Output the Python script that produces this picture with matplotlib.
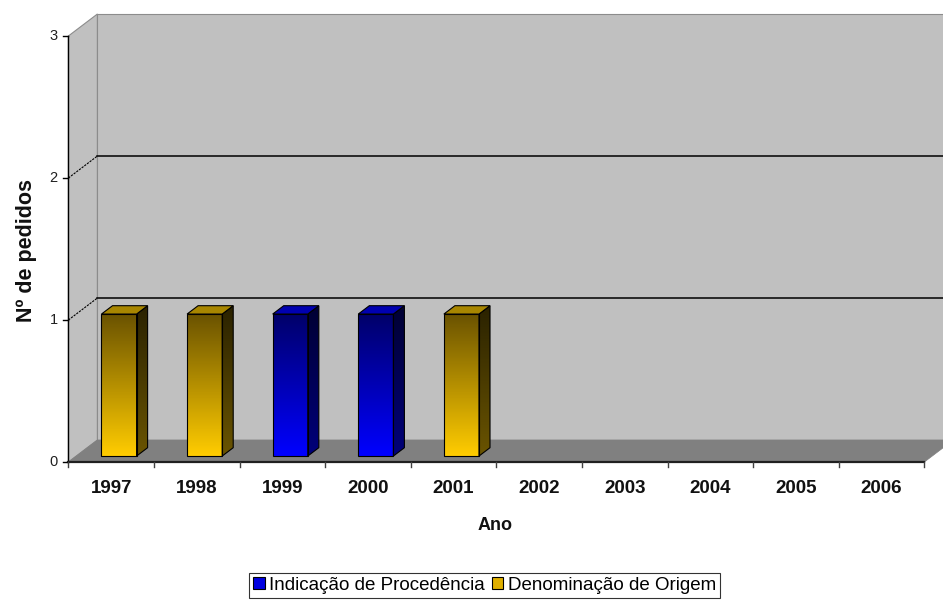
import numpy as np
import matplotlib.pyplot as plt
from matplotlib.patches import Polygon, Patch
from matplotlib.colors import LinearSegmentedColormap

years = ['1997', '1998', '1999', '2000', '2001', '2002', '2003', '2004', '2005', '2006']
ind_procedencia = [0, 0, 1, 1, 0, 0, 0, 0, 0, 0]
den_origem = [1, 1, 0, 0, 1, 0, 0, 0, 0, 0]
y_ticks = [0, 1, 2, 3]

plt.rcParams['font.family'] = ['Liberation Sans', 'DejaVu Sans']

fig = plt.figure(figsize=(9.43, 6.03), dpi=100)
ax = fig.add_axes([0, 0, 1, 1])
ax.axis('off')

n = len(years)
ymax = y_ticks[-1]
dx, dy = 0.339, 0.155          # depth of the 3d box in data units
f0, fd = 0.27, 0.38            # bar depth position / thickness (fraction of box depth)
bw = 0.41

# walls and floor
wall = '#c0c0c0'
ax.add_patch(Polygon([(0, 0), (0, ymax), (dx, ymax + dy), (dx, dy)],
                     closed=True, fc=wall, ec='#8c8c8c', lw=0.8, zorder=1))
ax.add_patch(Polygon([(dx, dy), (dx, ymax + dy), (n + dx, ymax + dy), (n + dx, dy)],
                     closed=True, fc=wall, ec='#8c8c8c', lw=0.8, zorder=1))
ax.add_patch(Polygon([(0, 0), (n, 0), (n + dx, dy), (dx, dy)],
                     closed=True, fc='#808080', ec='#808080', lw=0.5, zorder=2))

# gridlines
for t in y_ticks[1:-1]:
    ax.plot([dx, n + dx], [t + dy, t + dy], color='black', lw=1.1, zorder=3)
    ax.plot([0, dx], [t, t + dy], color='black', lw=0.8, ls=(0, (2, 1)), zorder=3)

# axes lines and ticks
ax.plot([0, 0], [0, ymax], color='black', lw=1, zorder=6)
ax.plot([0, n], [0, 0], color='#202020', lw=1.6, zorder=6)
for t in y_ticks:
    ax.plot([-0.06, 0], [t, t], color='black', lw=1, zorder=6)
    ax.text(-0.125, t, str(t), ha='right', va='center', fontsize=10.5, color='#202020')
for i in range(n + 1):
    ax.plot([i, i], [0, -0.035], color='#404040', lw=1, zorder=6)
for i, yr in enumerate(years):
    ax.text(i + 0.5, -0.187, yr, ha='center', va='center', fontsize=13.5, fontweight='bold',
            color='#111111')

ax.text(4.98, -0.444, 'Ano', ha='center', va='center', fontsize=13, fontweight='bold',
        color='#111111')
ax.text(-0.495, 1.49, 'Nº de pedidos', ha='center', va='center', rotation=90,
        fontsize=15.5, fontweight='bold', color='#111111')

gold = {'front': ['#ffcc00', '#6b5300'], 'side': ['#6a5400', '#2a2200'], 'top': '#a88600'}
blue = {'front': ['#0000ff', '#00006a'], 'side': ['#00007a', '#000033'], 'top': '#0000b0'}


def grad_face(poly, ext, c0, c1):
    cmap = LinearSegmentedColormap.from_list('g', [c0, c1])
    grad = np.linspace(0, 1, 100).reshape(-1, 1)
    im = ax.imshow(grad, extent=ext, origin='lower', cmap=cmap, aspect='auto', zorder=4)
    im.set_clip_path(poly)
    ax.add_patch(Polygon(poly.get_xy(), closed=True, fill=False, ec='black', lw=0.8, zorder=5))


def bar3d(xc, y0, y1, sch):
    ox, oy = f0 * dx, f0 * dy
    bdx, bdy = fd * dx, fd * dy
    xl, xr = xc - bw / 2 + ox, xc + bw / 2 + ox
    b, t = y0 + oy, y1 + oy
    front = Polygon([(xl, b), (xr, b), (xr, t), (xl, t)], closed=True, fc='none', ec='none')
    ax.add_patch(front)
    grad_face(front, [xl, xr, b, t], *sch['front'])
    side = Polygon([(xr, b), (xr + bdx, b + bdy), (xr + bdx, t + bdy), (xr, t)],
                   closed=True, fc='none', ec='none')
    ax.add_patch(side)
    grad_face(side, [xr, xr + bdx, b, t + bdy], *sch['side'])
    ax.add_patch(Polygon([(xl, t), (xr, t), (xr + bdx, t + bdy), (xl + bdx, t + bdy)],
                         closed=True, fc=sch['top'], ec='black', lw=0.8, zorder=5))


for i in range(n):
    base = 0
    if ind_procedencia[i] > 0:
        bar3d(i + 0.5, base, base + ind_procedencia[i], blue)
        base += ind_procedencia[i]
    if den_origem[i] > 0:
        bar3d(i + 0.5, base, base + den_origem[i], gold)

handles = [Patch(fc='#0000e0', ec='black', lw=0.8, label='Indicação de Procedência'),
           Patch(fc='#e0b000', ec='black', lw=0.8, label='Denominação de Origem')]
leg = fig.legend(handles=handles, loc='center', bbox_to_anchor=(0.514, 0.029), ncol=2,
                 fontsize=13.5, frameon=True, fancybox=False, handlelength=0.62,
                 handleheight=0.62, handletextpad=0.25, columnspacing=0.35, borderpad=0.2,
                 borderaxespad=0)
leg.get_frame().set_edgecolor('black')
leg.get_frame().set_linewidth(0.8)

ax.set_xlim(-68.4 / 85.6, (943 - 68.4) / 85.6)
ax.set_ylim((462 - 603) / 142, 462 / 142)

fig.savefig('out.png', dpi=100, facecolor='white')
